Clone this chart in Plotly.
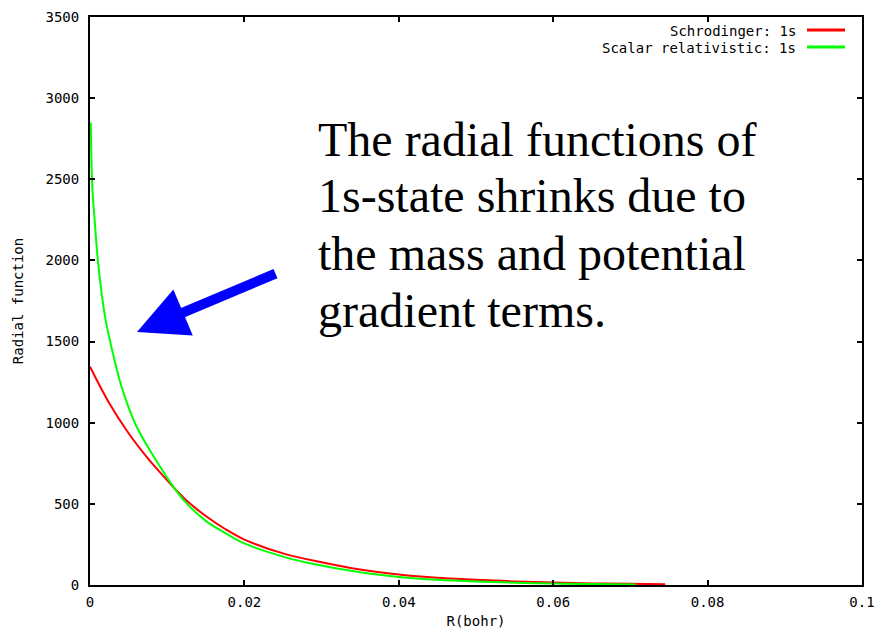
import plotly.graph_objects as go

# Schrodinger 1s radial function
schro_r = [0.0, 0.0025, 0.005, 0.0075, 0.01, 0.0125, 0.015, 0.0175, 0.02, 0.025,
           0.03, 0.035, 0.04, 0.045, 0.05, 0.055, 0.06, 0.065, 0.07, 0.0745]
schro_v = [1345, 1120, 935, 780, 645, 520, 425, 345, 280, 195,
           140, 95, 65, 45, 33, 22, 15, 10, 7, 5]

# Scalar relativistic 1s radial function
rel_r = [0.0001, 0.0003, 0.0006, 0.001, 0.0015, 0.002, 0.003, 0.004, 0.005, 0.006,
         0.0075, 0.009, 0.0105, 0.0121, 0.015, 0.0177, 0.02, 0.025, 0.0285, 0.035,
         0.04, 0.045, 0.05, 0.055, 0.06, 0.065, 0.0707]
rel_v = [2850, 2450, 2250, 2010, 1800, 1640, 1420, 1235, 1095, 980,
         850, 735, 625, 525, 395, 315, 256, 175, 134, 78,
         50, 32, 21, 14, 9, 6, 3]

x_ticks = [0, 0.02, 0.04, 0.06, 0.08, 0.1]
x_ticktext = ["0", "0.02", "0.04", "0.06", "0.08", "0.1"]
y_ticks = [0, 500, 1000, 1500, 2000, 2500, 3000, 3500]

legend_names = ["Schrodinger: 1s", "Scalar relativistic: 1s"]
colors = ["#ff0000", "#00ff00"]

note_lines = ["The radial functions of", "1s-state shrinks due to",
              "the mass and potential", "gradient terms."]

mono = "DejaVu Sans Mono"

fig = go.Figure()
fig.add_trace(go.Scatter(x=schro_r, y=schro_v, mode="lines", name=legend_names[0],
                         line=dict(color=colors[0], width=2), line_shape="spline"))
fig.add_trace(go.Scatter(x=rel_r, y=rel_v, mode="lines", name=legend_names[1],
                         line=dict(color=colors[1], width=2), line_shape="spline"))

L, R, T, B = 90, 20, 17, 54
W, H = 882, 639
pw, ph = W - L - R, H - T - B

def px(xp):
    return (xp - L) / pw

def py(yp):
    return (H - B - yp) / ph

annotations = []
shapes = []
# legend (gnuplot style: text right-aligned, sample line to the right)
for i, (nm, c) in enumerate(zip(legend_names, colors)):
    yp = 31 + i * 17
    annotations.append(dict(x=px(798), y=py(yp), xref="paper", yref="paper",
                            text=nm, showarrow=False, xanchor="right", yanchor="middle",
                            font=dict(family=mono, size=14, color="black")))
    shapes.append(dict(type="line", xref="paper", yref="paper",
                       x0=px(807), x1=px(845), y0=py(yp - 1), y1=py(yp - 1),
                       line=dict(color=c, width=3)))

# note text
for i, t in enumerate(note_lines):
    annotations.append(dict(x=px(316), y=py(139 + i * 57), xref="paper", yref="paper",
                            text=t, showarrow=False, xanchor="left", yanchor="middle",
                            font=dict(family="Liberation Serif, Times New Roman, serif",
                                      size=48, color="black")))

# blue arrow
annotations.append(dict(x=px(137), y=py(332), xref="paper", yref="paper", text="",
                        showarrow=True, ax=140, ay=-59, arrowcolor="#0000ff",
                        arrowwidth=10, arrowhead=2, arrowsize=1.0, standoff=0))

fig.update_layout(
    width=W, height=H,
    margin=dict(l=L, r=R, t=T, b=B, autoexpand=False),
    paper_bgcolor="white", plot_bgcolor="white",
    showlegend=False,
    annotations=annotations, shapes=shapes,
    font=dict(family=mono, size=14, color="black"),
)
fig.update_xaxes(range=[0, 0.1], tickvals=x_ticks, ticktext=x_ticktext,
                 showgrid=False, zeroline=False, showline=True, linecolor="black",
                 linewidth=2, mirror="ticks", ticks="inside", ticklen=5, tickwidth=2,
                 tickcolor="black", ticklabelstandoff=3, automargin=False,
                 title=dict(text="R(bohr)", font=dict(family=mono, size=14), standoff=7))
fig.update_yaxes(range=[0, 3500], tickvals=y_ticks,
                 showgrid=False, zeroline=False, showline=True, linecolor="black",
                 linewidth=2, mirror="ticks", ticks="inside", ticklen=5, tickwidth=2,
                 tickcolor="black", ticklabelstandoff=6, automargin=False,
                 title=dict(text="Radial function", font=dict(family=mono, size=14), standoff=19))

fig.write_html("out.html")
